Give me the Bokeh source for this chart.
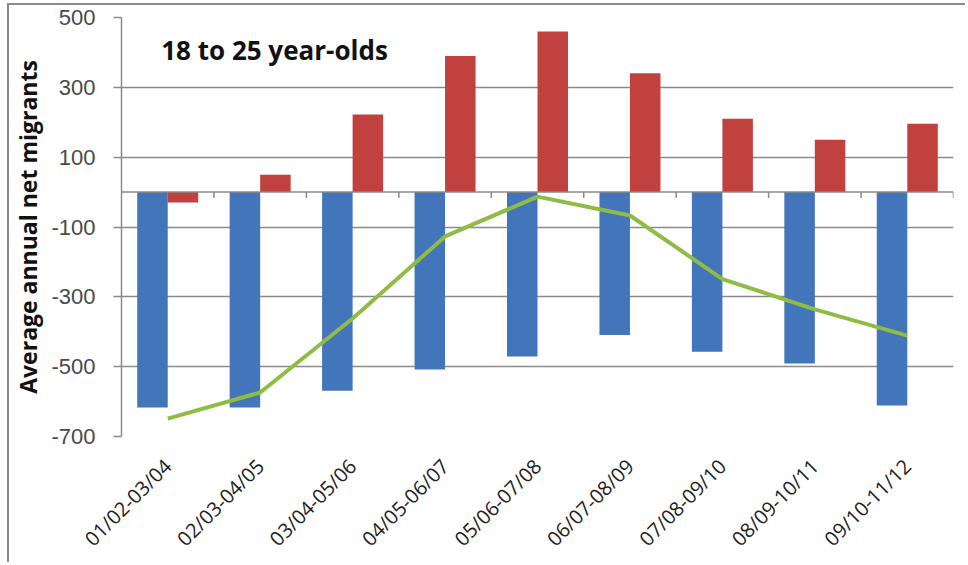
import math
from bokeh.plotting import figure
from bokeh.models import FactorRange, Range1d, FixedTicker, Span, Label, ColumnDataSource
from bokeh.transform import dodge
from bokeh.embed import file_html
from bokeh.resources import INLINE

categories = ["01/02-03/04", "02/03-04/05", "03/04-05/06", "04/05-06/07", "05/06-07/08",
              "06/07-08/09", "07/08-09/10", "08/09-10/11", "09/10-11/12"]
outflow = [-617, -617, -569, -508, -471, -409, -457, -491, -611]
inflow = [-30, 50, 222, 390, 460, 340, 210, 150, 196]
net = [-649, -574, -362, -127, -13, -67, -249, -336, -411]
y_ticks = [-700, -500, -300, -100, 100, 300, 500]

src = ColumnDataSource(dict(cat=categories, outflow=outflow, inflow=inflow, net=net,
                            zero=[0] * len(categories), tick_end=[-17] * len(categories)))

p = figure(width=958, height=559, output_backend="svg", toolbar_location=None,
           x_range=FactorRange(*categories, range_padding=0),
           y_range=Range1d(-700, 500),
           min_border_left=108, min_border_right=14, min_border_top=12, min_border_bottom=110)
p.styles = {"border-top": "2px solid #8a8a8a", "border-left": "2px solid #8a8a8a",
            "margin-left": "7px", "margin-top": "3px"}
p.outline_line_color = None
p.background_fill_color = "white"

grid_col = "#8a8a8a"
p.xgrid.grid_line_color = None
p.ygrid.ticker = FixedTicker(ticks=y_ticks)
p.ygrid.grid_line_color = grid_col
p.ygrid.grid_line_width = 1.5

p.yaxis.ticker = FixedTicker(ticks=y_ticks)
p.yaxis.major_label_overrides = {t: str(t) for t in y_ticks}
p.yaxis.axis_line_color = grid_col
p.yaxis.axis_line_width = 1.5
p.yaxis.major_tick_line_color = grid_col
p.yaxis.major_tick_line_width = 1.5
p.yaxis.major_tick_out = 8
p.yaxis.major_tick_in = 0
p.yaxis.minor_tick_line_color = None
p.yaxis.major_label_standoff = 18
p.yaxis.major_label_text_font = "Liberation Sans"
p.yaxis.major_label_text_font_size = "22px"
p.yaxis.major_label_text_color = "#4a4a4a"
p.yaxis.axis_label = "Average annual net migrants"
p.yaxis.axis_label_text_font = "Open Sans"
p.yaxis.axis_label_text_font_style = "bold"
p.yaxis.axis_label_text_font_size = "23px"
p.yaxis.axis_label_text_color = "#111111"
p.yaxis.axis_label_standoff = 4

p.xaxis.axis_line_color = None
p.xaxis.major_tick_line_color = None
p.xaxis.minor_tick_line_color = None
p.xaxis.major_label_orientation = math.pi / 4
p.xaxis.major_label_standoff = 20
p.xaxis.major_label_text_font = "Open Sans"
p.xaxis.major_label_text_font_size = "20px"
p.xaxis.major_label_text_color = "#222222"

p.vbar(x=dodge("cat", -0.165, range=p.x_range), top="outflow", bottom=0, width=0.33,
       source=src, fill_color="#4275B9", line_color=None)
p.vbar(x=dodge("cat", 0.165, range=p.x_range), top="inflow", bottom=0, width=0.33,
       source=src, fill_color="#C0413D", line_color=None)

p.add_layout(Span(location=0, dimension="width", line_color=grid_col, line_width=1.5))
p.segment(x0=dodge("cat", 0.5, range=p.x_range), y0="zero",
          x1=dodge("cat", 0.5, range=p.x_range), y1="tick_end",
          source=src, line_color=grid_col, line_width=1.5)

p.line(x="cat", y="net", source=src, line_color="#8FBC45", line_width=4, line_join="round")

p.add_layout(Label(x=0.43, y=407, text="18 to 25 year-olds", text_font="Open Sans",
                   text_font_style="bold", text_font_size="26px", text_color="#111111",
                   text_baseline="alphabetic"))

open("out.html", "w").write(file_html(p, INLINE))
